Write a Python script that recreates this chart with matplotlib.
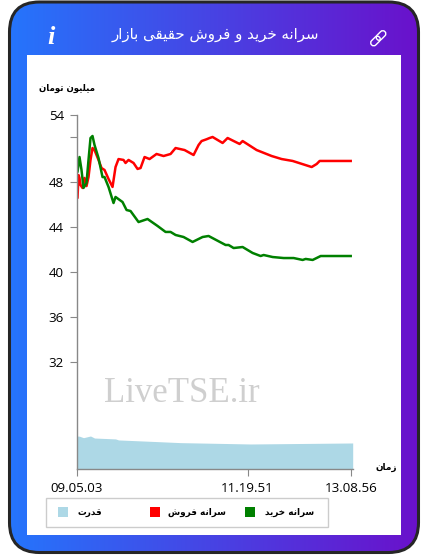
import unicodedata
import numpy as np
import matplotlib
matplotlib.use("Agg")
import matplotlib.pyplot as plt
from matplotlib.patches import FancyBboxPatch, Rectangle
from matplotlib.colors import LinearSegmentedColormap
from matplotlib.transforms import Affine2D

# ---------- data ----------
sell_t = [0, 1, 2, 3, 4, 6, 8, 10, 12, 14, 16, 18, 22, 25, 28, 32, 36, 39, 42, 47, 49, 52, 57, 61, 64, 68, 73, 80, 87, 94, 99, 108, 117, 122, 125, 130, 133, 136, 146, 151, 163, 166, 180, 195, 205, 216, 235, 240, 243, 274]
sell_v = [46.6, 46.58, 48.62, 48.36, 47.73, 47.47, 48.36, 47.64, 48.44, 49.96, 51.02, 50.84, 49.96, 49.24, 49.07, 48.27, 47.56, 49.33, 50.04, 49.96, 49.69, 49.96, 49.69, 49.16, 49.24, 50.22, 50.04, 50.49, 50.31, 50.49, 51.02, 50.84, 50.4, 51.29, 51.64, 51.8, 51.91, 52.0, 51.47, 51.91, 51.38, 51.64, 50.84, 50.31, 50.04, 49.87, 49.33, 49.6, 49.87, 49.87]
buy_t = [0, 1, 3, 5, 7, 10, 12, 14, 16, 18, 22, 26, 28, 32, 37, 39, 46, 50, 54, 62, 71, 81, 89, 94, 99, 107, 116, 126, 132, 149, 152, 157, 166, 176, 184, 187, 196, 207, 217, 226, 229, 236, 244, 274]
buy_v = [48.9, 48.89, 50.22, 49.07, 47.47, 47.91, 49.96, 51.91, 52.09, 51.29, 50.13, 48.44, 48.44, 47.56, 46.13, 46.67, 46.22, 45.51, 45.42, 44.44, 44.71, 44.09, 43.56, 43.56, 43.29, 43.11, 42.67, 43.11, 43.2, 42.4, 42.4, 42.13, 42.22, 41.69, 41.42, 41.51, 41.33, 41.24, 41.24, 41.07, 41.16, 41.07, 41.42, 41.42]
power_t = [0, 3, 7, 14, 18, 39, 42, 81, 104, 157, 174, 276]
power_v = [25.42, 25.4, 25.27, 25.42, 25.24, 25.16, 25.07, 24.92, 24.83, 24.74, 24.71, 24.8]
x_ticks = [0, 171, 274]
x_labels = ["09.05.03", "11.19.51", "13.08.56"]
y_ticks = [54, 52, 48, 44, 40, 36, 32]
y_labels = ["54", "", "48", "44", "40", "36", "32"]
title = "سرانه خرید و فروش حقیقی بازار"
y_title = "میلیون تومان"
x_title = "زمان"
legend_names = ["قدرت", "سرانه فروش", "سرانه خرید"]
legend_colors = ["lightblue", "red", "green"]


def shape(s):
    """Join Persian letters into presentation forms and lay them out left to right."""
    right_only = set("ادذرزژو")
    out = []
    for i, c in enumerate(s):
        if not c.isalpha():
            out.append(c)
            continue
        prev_ok = i > 0 and s[i - 1].isalpha() and s[i - 1] not in right_only
        next_ok = i + 1 < len(s) and s[i + 1].isalpha() and c not in right_only
        form = {(1, 1): "MEDIAL", (1, 0): "FINAL", (0, 1): "INITIAL", (0, 0): "ISOLATED"}[(int(prev_ok), int(next_ok))]
        try:
            out.append(unicodedata.lookup(f"{unicodedata.name(c)} {form} FORM"))
        except KeyError:
            out.append(c)
    return "".join(reversed(out))


W, H = 428, 559
fig = plt.figure(figsize=(W / 100, H / 100), dpi=100, facecolor="white")
ui = "Open Sans"

# ---------- card in pixel coordinates ----------
bg = fig.add_axes([0, 0, 1, 1])
bg.set_xlim(0, W)
bg.set_ylim(H, 0)
bg.axis("off")
cmap = LinearSegmentedColormap.from_list("g", ["#2575fc", "#6a11cb"])
grad = np.linspace(0, 1, 256)[None, :]
im = bg.imshow(grad, extent=(9, 419, 553, 2), cmap=cmap, aspect="auto", zorder=1)
clip = FancyBboxPatch((9.5, 2), 409, 550.5, boxstyle="round,pad=0,rounding_size=30",
                      fc="none", ec="#262626", lw=2.2, zorder=3)
bg.add_patch(clip)
im.set_clip_path(clip)
bg.set_xlim(0, W)
bg.set_ylim(H, 0)
bg.add_patch(Rectangle((27, 55), 374, 480, fc="white", ec="none", zorder=2))

bg.text(215, 35, shape(title), color="white", fontsize=10.8, ha="center", va="center",
        family="DejaVu Sans", zorder=4)
bg.text(51, 37.5, "i", color="white", fontsize=19, ha="center", va="center",
        family="Liberation Serif", style="italic", weight="bold", zorder=4)
# link icon
for cx, cy in [(375.5, 41), (381, 35.5)]:
    bg.add_patch(FancyBboxPatch((cx - 5.5, cy - 3), 11, 6, boxstyle="round,pad=0,rounding_size=3",
                                fc="none", ec="white", lw=1.0, zorder=4,
                                transform=Affine2D().rotate_deg_around(cx, cy, -45) + bg.transData))

bg.text(67, 88.5, shape(y_title), color="black", fontsize=6.2, weight="bold", ha="center",
        va="center", family="DejaVu Sans", zorder=4)
bg.text(386, 467.5, shape(x_title), color="black", fontsize=6.4, weight="bold", ha="center",
        va="center", family="DejaVu Sans", zorder=4)
bg.text(182, 393, "LiveTSE.ir", color="#cfcfcf", fontsize=25, ha="center", va="center",
        family="Liberation Serif", zorder=4)

# legend
bg.add_patch(Rectangle((46.5, 497.5), 282, 29, fc="white", ec="#cccccc", lw=1, zorder=4))
for name, col, sx, tx in zip(legend_names, legend_colors, [58, 150, 245], [90, 197, 290]):
    bg.add_patch(Rectangle((sx, 507), 10, 10, fc=col, ec="none", zorder=5))
    bg.text(tx, 512.5, shape(name), color="black", fontsize=6.4, weight="bold", ha="center",
            va="center", family="DejaVu Sans", zorder=5)

# ---------- chart ----------
ax = fig.add_axes([76.5 / W, (H - 469.3) / H, 276.2 / W, 354.8 / H], zorder=5)
ax.patch.set_alpha(0)
ax.set_xlim(0, 276)
ax.set_ylim(22.46, 54)
ax.fill_between(power_t, power_v, 22.46, color="lightblue", lw=0)
ax.plot(sell_t, sell_v, color="red", lw=1.8, solid_joinstyle="round")
ax.plot(buy_t, buy_v, color="green", lw=1.8, solid_joinstyle="round")
for s in ("top", "right"):
    ax.spines[s].set_visible(False)
for s in ("left", "bottom"):
    ax.spines[s].set_color("#888888")
    ax.spines[s].set_linewidth(1)
ax.set_xticks(x_ticks, x_labels, family=ui, fontsize=9.6)
ax.set_yticks(y_ticks, y_labels, family=ui, fontsize=9.6)
ax.tick_params(axis="both", length=5, width=0.8, color="#888888", labelcolor="black")
ax.tick_params(axis="x", pad=4.5)
ax.tick_params(axis="y", pad=4)

fig.savefig("out.png", dpi=100)
